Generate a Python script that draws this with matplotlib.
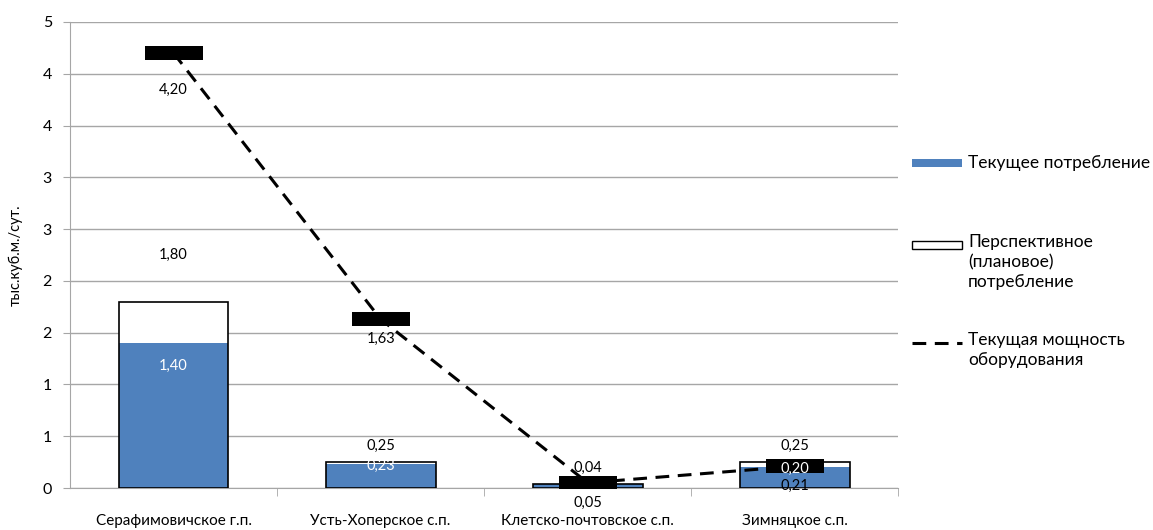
import matplotlib.pyplot as plt
import matplotlib.patches as mpatches
from matplotlib.lines import Line2D
import numpy as np

plt.rcParams['font.family'] = ['Lato', 'DejaVu Sans']

categories = ["Серафимовичское г.п.", "Усть-Хоперское с.п.", "Клетско-почтовское с.п.", "Зимняцкое с.п."]
current = [1.40, 0.23, 0.04, 0.20]
planned = [1.80, 0.25, 0.04, 0.25]
capacity = [4.20, 1.63, 0.05, 0.21]
ytick_vals = [0, 0.5, 1, 1.5, 2, 2.5, 3, 3.5, 4, 4.5]
ytick_labels = ["0", "1", "1", "2", "2", "3", "3", "4", "4", "5"]

blue = "#4F81BD"
grid = "#A6A6A6"


def fmt(v):
    return f"{v:.2f}".replace(".", ",")


fig = plt.figure(figsize=(11.53, 5.30), dpi=100)
ax = fig.add_axes([0.0607, 0.0792, 0.7185, 0.8793])

x = np.arange(len(categories))
w = 0.53

ax.bar(x, planned, w, color="white", edgecolor="none", zorder=2)
ax.bar(x, current, w, color=blue, edgecolor="none", zorder=3)
ax.bar(x, planned, w, color="none", edgecolor="black", linewidth=1.2, zorder=4)

ax.plot(x, capacity, color="black", linewidth=2.2, linestyle=(0, (4.5, 2.8)), zorder=5)
rect = [(-4.46, -1), (4.46, -1), (4.46, 1), (-4.46, 1), (-4.46, -1)]
ax.plot(x, capacity, linestyle="none", marker=rect, markersize=42, markeredgewidth=0,
        color="black", zorder=6)

# labels
for i in range(len(x)):
    off = 47 if i == 0 else 16
    ax.annotate(fmt(planned[i]), (x[i], planned[i]), xytext=(0, off), textcoords="offset pixels",
                ha="center", va="center", fontsize=10.5, zorder=7)
    if i != 2:
        off = -23 if current[i] > 0.5 else -2
        ax.annotate(fmt(current[i]), (x[i], current[i]), xytext=(0, off), textcoords="offset pixels",
                    ha="center", va="center", fontsize=10.5, color="white", zorder=7)
    off = -37 if i == 0 else -20
    ax.annotate(fmt(capacity[i]), (x[i], capacity[i]), xytext=(0, off), textcoords="offset pixels",
                ha="center", va="center", fontsize=10.5, zorder=7)

ax.set_xlim(-0.5, len(categories) - 0.5)
ax.set_ylim(0, 4.5)
ax.set_yticks(ytick_vals)
ax.set_yticklabels(ytick_labels, fontsize=11.5)
ax.yaxis.grid(True, color=grid, linewidth=1)
ax.set_axisbelow(True)
ax.set_xticks(x)
ax.set_xticklabels(categories, fontsize=11)
ax.set_xticks(np.arange(0.5, len(categories), 1), minor=True)
ax.tick_params(axis="x", which="major", length=0, pad=19)
ax.tick_params(axis="x", which="minor", length=6, color=grid)
ax.tick_params(axis="y", length=5, color=grid, pad=8)
for s in ["top", "right"]:
    ax.spines[s].set_visible(False)
for s in ["left", "bottom"]:
    ax.spines[s].set_color(grid)
ax.set_ylabel("тыс.куб.м./сут.", fontsize=10.5, labelpad=14)

# legend drawn by hand
lx0, lx1 = 912 / 1153, 962 / 1153
tx = 968 / 1153
fig.patches.append(mpatches.Rectangle((lx0, 1 - 167 / 530), lx1 - lx0, 8 / 530, transform=fig.transFigure,
                                      facecolor=blue, edgecolor="none"))
fig.text(tx, 1 - 163 / 530, "Текущее потребление", fontsize=12.5, va="center")
fig.patches.append(mpatches.Rectangle((lx0, 1 - 249 / 530), lx1 - lx0, 8 / 530, transform=fig.transFigure,
                                      facecolor="white", edgecolor="black", linewidth=1))
fig.text(tx, 1 - 234 / 530, "Перспективное\n(плановое)\nпотребление", fontsize=12.5, va="top",
         linespacing=1.3)
fig.lines.append(Line2D([lx0, lx1], [1 - 343 / 530] * 2, transform=fig.transFigure, color="black",
                        linewidth=2.2, linestyle=(0, (4.5, 2.8))))
fig.text(tx, 1 - 332 / 530, "Текущая мощность\nоборудования", fontsize=12.5, va="top", linespacing=1.3)

fig.savefig("out.png", dpi=100)
